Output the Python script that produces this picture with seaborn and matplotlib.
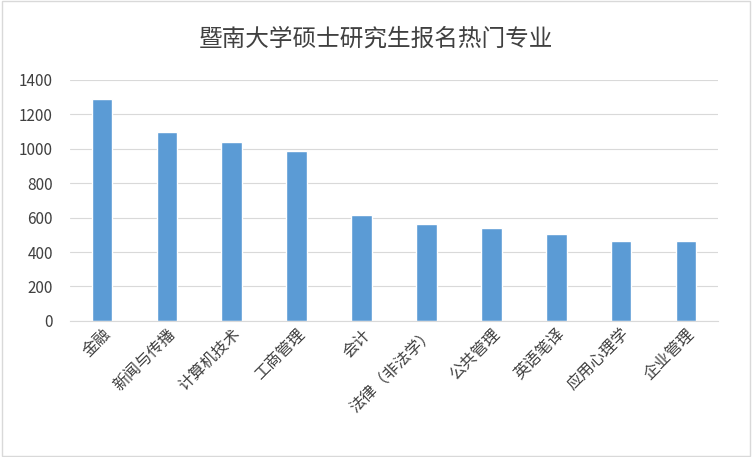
import matplotlib
matplotlib.use("Agg")
import matplotlib.pyplot as plt
import seaborn as sns
import pandas as pd

categories = ["金融", "新闻与传播", "计算机技术", "工商管理", "会计", "法律（非法学）", "公共管理", "英语笔译", "应用心理学", "企业管理"]
values = [1290, 1095, 1040, 990, 615, 565, 540, 505, 465, 465]
yticks = [0, 200, 400, 600, 800, 1000, 1200, 1400]

sns.set_style("white")
plt.rcParams['font.family'] = ['Noto Sans CJK SC', 'DejaVu Sans']

fig = plt.figure(figsize=(7.52, 4.57), dpi=100)
ax = fig.add_axes([69.6/752, 0.298, 648.8/752, 0.527])
df = pd.DataFrame({"cat": categories, "val": values})
sns.barplot(data=df, x="cat", y="val", color="#5B9BD5", saturation=1, width=0.32, ax=ax)
ax.set_ylim(0, 1400)
ax.set_yticks(yticks)
ax.grid(axis="y", color="#D9D9D9", linewidth=0.8)
ax.set_axisbelow(True)
for s in ["top", "right", "left"]:
    ax.spines[s].set_visible(False)
ax.spines["bottom"].set_color("#D9D9D9")
ax.set_xlabel("")
ax.set_ylabel("")
ax.tick_params(axis="y", length=0, labelsize=11, colors="#404040", pad=12)
ax.tick_params(axis="x", length=0, labelsize=11.5, colors="#404040")
plt.setp(ax.get_xticklabels(), rotation=45, ha="right", rotation_mode="anchor")
fig.text(0.5, 0.915, "暨南大学硕士研究生报名热门专业", ha="center", va="center", fontsize=17, color="#404040")
fig.patches.append(plt.Rectangle((0.002, 0.003), 0.996, 0.994, transform=fig.transFigure, fill=False, edgecolor="#D9D9D9", linewidth=1))
fig.savefig("out.png", dpi=100)
